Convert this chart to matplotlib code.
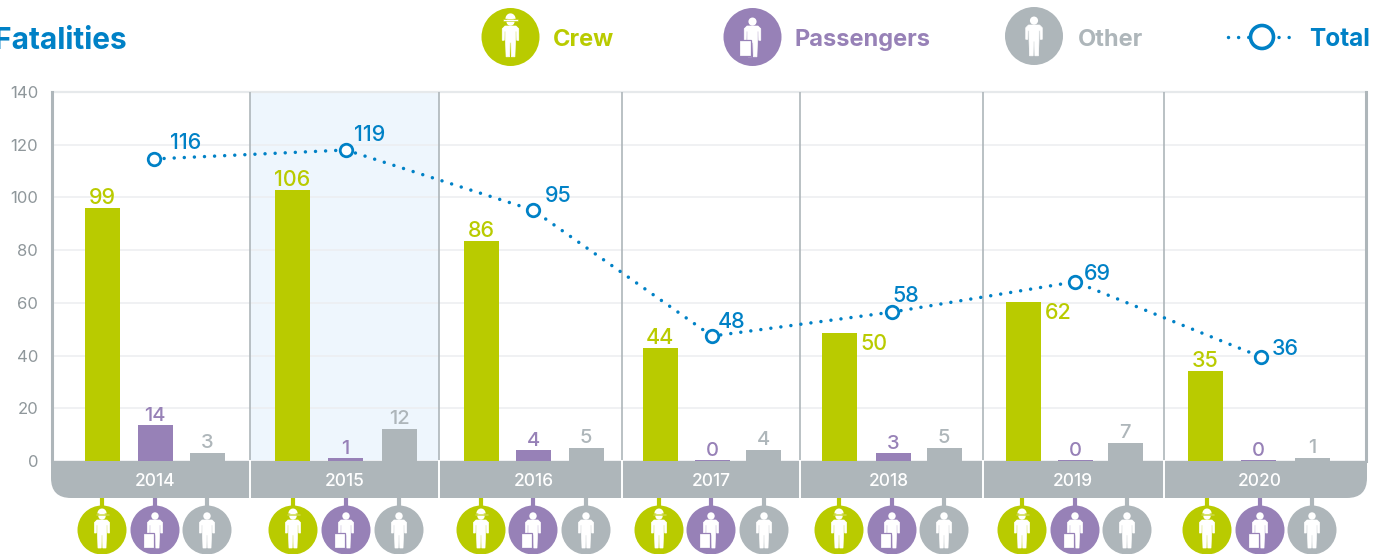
import numpy as np
import matplotlib
matplotlib.use('Agg')
import matplotlib.pyplot as plt
from matplotlib.patches import Circle, Polygon, Rectangle, PathPatch
from matplotlib.path import Path

# Data (bars and labels do not agree exactly in the original)
years = ['2014', '2015', '2016', '2017', '2018', '2019', '2020']
crew_bars = [96, 103, 83.5, 43, 48.5, 60.3, 34]
passenger_bars = [13.7, 1, 4, 0.3, 3, 0.3, 0.3]
other_bars = [3, 12, 5, 4, 5, 7, 1]
total_points = [114.6, 118, 95.2, 47.4, 56.5, 68, 39.5]
crew_labels = ['99', '106', '86', '44', '50', '62', '35']
passenger_labels = ['14', '1', '4', '0', '3', '0', '0']
other_labels = ['3', '12', '5', '4', '5', '7', '1']
total_labels = ['116', '119', '95', '48', '58', '69', '36']
y_ticks = [0, 20, 40, 60, 80, 100, 120, 140]

# Colours
GREEN = '#b9cb00'
PURPLE = '#9781b7'
GREY = '#aeb6ba'
BLUE = '#0081c6'
TICK = '#8f979b'

# Layout, in pixels of the figure
W, H = 1386, 554
crew_x = [102, 292, 481, 660, 839, 1023, 1205]
passenger_x = [155, 345, 533, 712, 893, 1075, 1258]
other_x = [207, 399, 586, 763, 944, 1125, 1312]
total_x = [154, 346, 533, 712, 892, 1075, 1261]
year_x = [155, 345, 534, 711, 889, 1073, 1260]
cell_edges = [52, 250, 439, 622, 800, 983, 1164, 1366]
total_offsets = [(32, 16), (24, 15), (25, 14), (20, 14), (14, 16), (22, 8), (24, 8)]
icon_x = [(102, 155, 207), (293, 346, 399), (481, 533, 586), (659, 711, 764),
          (839, 892, 944), (1022, 1075, 1127), (1207, 1260, 1312)]

plt.rcParams['font.family'] = ['Inter', 'DejaVu Sans']

fig = plt.figure(figsize=(W / 100, H / 100), dpi=100, facecolor='white')
ax = fig.add_axes([52 / W, (H - 461) / H, (1366 - 52) / W, 369 / H])
ax.set_xlim(52, 1366)
ax.set_ylim(0, 140)

# highlighted year, grid and year separators
ax.axvspan(cell_edges[1], cell_edges[2], color='#eef6fd', zorder=0, lw=0)
ax.set_yticks(y_ticks)
ax.tick_params(axis='y', length=0, pad=10, labelsize=12, labelcolor=TICK)
for lab in ax.get_yticklabels():
    lab.set_va('center_baseline')
ax.set_xticks([])
ax.grid(axis='y', color='#eceef0', linewidth=1.1, zorder=1)
ax.set_axisbelow(True)
for s in ax.spines.values():
    s.set_visible(False)
ax.axhline(140, color='#e6e9eb', lw=1.6, zorder=1, clip_on=False)
for e in cell_edges[1:-1]:
    ax.axvline(e, color=GREY, lw=1.2, zorder=2)
for e in (cell_edges[0], cell_edges[-1]):
    ax.axvline(e, color=GREY, lw=2.2, zorder=2, clip_on=False)

# bars
bar_w = 35
ax.bar(crew_x, crew_bars, bar_w, color=GREEN, zorder=3)
ax.bar(passenger_x, passenger_bars, bar_w, color=PURPLE, zorder=3)
ax.bar(other_x, other_bars, bar_w, color=GREY, zorder=3)

# value labels
for i in range(len(years)):
    if crew_labels[i] in ('50', '62'):
        ax.annotate(crew_labels[i], (crew_x[i] + bar_w / 2, crew_bars[i]),
                    xytext=(4, -11), textcoords='offset pixels', ha='left', va='center',
                    color=GREEN, fontsize=15.5, fontweight='medium')
    else:
        ax.annotate(crew_labels[i], (crew_x[i], crew_bars[i]),
                    xytext=(0, 10), textcoords='offset pixels', ha='center', va='center',
                    color=GREEN, fontsize=15.5, fontweight='medium')
    ax.annotate(passenger_labels[i], (passenger_x[i], passenger_bars[i]),
                xytext=(0, 9), textcoords='offset pixels', ha='center', va='center',
                color=PURPLE, fontsize=14.5, fontweight='medium')
    ax.annotate(other_labels[i], (other_x[i], other_bars[i]),
                xytext=(0, 10), textcoords='offset pixels', ha='center', va='center',
                color=GREY, fontsize=14.5, fontweight='medium')

# total line
ax.plot(total_x, total_points, color=BLUE, lw=2.5, linestyle=(0, (0.01, 2.9)),
        dash_capstyle='round', zorder=5)
ax.plot(total_x, total_points, linestyle='none', marker='o', ms=9, mfc='white', mec=BLUE,
        mew=2, zorder=6)
for i, lab in enumerate(total_labels):
    ax.annotate(lab, (total_x[i], total_points[i]), xytext=total_offsets[i],
                textcoords='offset pixels', ha='center', va='center', color=BLUE,
                fontsize=15.5, fontweight='medium', zorder=7)

# overlay in figure pixels for the year strip, the icons and the legend
ov = fig.add_axes([0, 0, 1, 1], facecolor='none')
ov.set_xlim(0, W)
ov.set_ylim(H, 0)
ov.axis('off')


def person(cx, cy, bg, scale=1.0, kind='other'):
    body = [(-5, -10), (5, -10), (7.5, -7.5), (7.5, 3), (5.7, 3), (5.5, -5), (4.5, -5),
            (4.5, 4), (4, 18), (0.8, 18), (0.5, 5), (-0.5, 5), (-0.8, 18), (-4, 18),
            (-4.5, 4), (-4.5, -5), (-5.5, -5), (-5.7, 3), (-7.5, 3), (-7.5, -7.5)]
    pts = [(cx + x * scale, cy + y * scale) for x, y in body]
    ov.add_patch(Polygon(pts, closed=True, fc='white', ec='white', lw=0.5, zorder=6))
    ov.add_patch(Circle((cx, cy - 14 * scale), 3.7 * scale, fc='white', ec='none', zorder=6))
    if kind == 'passenger':
        # suitcase in front of the left leg
        ov.add_patch(Rectangle((cx - 12 * scale, cy + 3 * scale), 11 * scale, 14.5 * scale,
                               fc='white', ec=bg, lw=0.9, zorder=7))
    if kind == 'crew':
        # helmet with a brim
        theta = np.linspace(np.pi, 2 * np.pi, 20)
        dome = [(cx + 4.6 * scale * np.cos(t), cy - 16.5 * scale + 5 * scale * np.sin(t)) for t in theta]
        ov.add_patch(Polygon(dome, closed=True, fc='white', ec='none', zorder=7))
        ov.add_patch(Rectangle((cx - 6.5 * scale, cy - 16.3 * scale), 13 * scale, 1.7 * scale,
                               fc='white', ec=bg, lw=0.4, zorder=7))


# strip with rounded bottom corners
r = 20
x0, x1, y0, y1 = 51, 1367, 461, 498
verts = [(x0, y0), (x1, y0), (x1, y1 - r), (x1, y1), (x1 - r, y1), (x0 + r, y1), (x0, y1),
         (x0, y1 - r), (x0, y0)]
codes = [Path.MOVETO, Path.LINETO, Path.LINETO, Path.CURVE3, Path.CURVE3, Path.LINETO,
         Path.CURVE3, Path.CURVE3, Path.CLOSEPOLY]
ov.add_patch(PathPatch(Path(verts, codes), fc=GREY, ec='none', zorder=2))
for e in cell_edges[1:-1]:
    ov.plot([e, e], [460, 498], color='white', lw=1.4, zorder=3, solid_capstyle='butt')
for i, y in enumerate(years):
    ov.text(year_x[i], 482, y, color='white', ha='center', va='center', fontsize=12.5,
            fontweight='medium', zorder=4)

# icons below the strip
kinds = [('crew', GREEN), ('passenger', PURPLE), ('other', GREY)]
for xs in icon_x:
    for cx, (kind, col) in zip(xs, kinds):
        ov.plot([cx, cx], [498, 508], color=col, lw=3, solid_capstyle='butt', zorder=1)
        ov.add_patch(Circle((cx, 530), 24.5, fc=col, ec='none', zorder=4, clip_on=False))
        person(cx, 530, col, 1.0, kind)

# title and legend
ov.text(-6, 41, 'Fatalities', color=BLUE, fontsize=21.5, fontweight='bold', ha='left', va='center')
for cx, cy, kind, col, lab, tx in [(510.5, 37, 'crew', GREEN, 'Crew', 553),
                                   (752.5, 37, 'passenger', PURPLE, 'Passengers', 795),
                                   (1034, 36, 'other', GREY, 'Other', 1078)]:
    ov.add_patch(Circle((cx, cy), 29, fc=col, ec='none', zorder=4))
    person(cx, cy, col, 1.1, kind)
    ov.text(tx, 40, lab, color=col, fontsize=17, fontweight='bold', ha='left', va='center')

ov.plot([1228, 1296], [37, 37], color=BLUE, lw=2.5, linestyle=(0, (0.01, 2.9)),
        dash_capstyle='round', zorder=3)
ov.add_patch(Circle((1262, 37), 11.5, fc='white', ec=BLUE, lw=2.6, zorder=4))
ov.text(1309, 40, 'Total', color=BLUE, fontsize=17.5, fontweight='bold', ha='left', va='center')

fig.savefig('out.png', dpi=100)
